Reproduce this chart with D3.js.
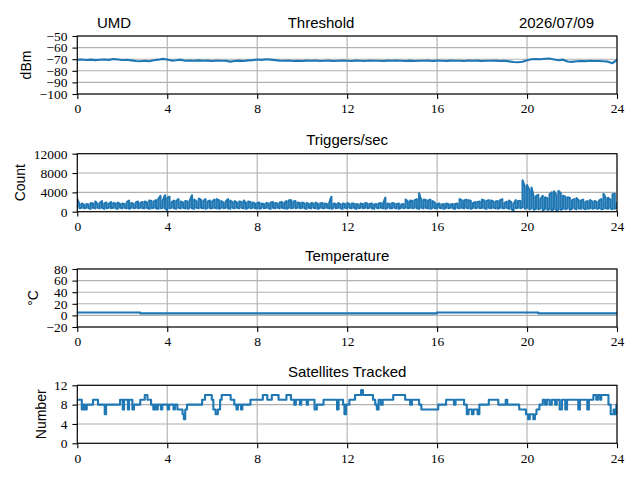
<!DOCTYPE html>
<html lang="en">
	<head>
		<meta charset="utf-8">
		<title>UMD daily status</title>
		<script src="https://cdn.jsdelivr.net/npm/d3@7"></script>
		<style type="text/css">
			body {
				margin: 0;
				background: white;
			}
			.lbl {
				font-family: "Liberation Sans", "DejaVu Sans", sans-serif;
				fill: black;
			}
		</style>
	</head>
	<body>
		<script>

			//Hours of the day, shared x ticks
			var hourTicks = [0, 4, 8, 12, 16, 20, 24];

			//Threshold (dBm), one reading every 0.2 h from 0 to 24
			var thresholdDbm = [
				-70.6, -70.3, -70.7, -70.4, -70.8, -70.5, -70.2, -70.6, -69.9, -70.3,
				-70.7, -70.5, -71.0, -71.6, -71.8, -71.4, -71.7, -70.9, -70.4, -69.7,
				-70.2, -71.2, -70.9, -70.4, -71.3, -71.1, -71.4, -71.0, -71.3, -71.2,
				-71.5, -71.1, -71.4, -71.3, -72.1, -71.6, -71.2, -71.5, -71.0, -70.8,
				-70.3, -70.6, -70.1, -70.4, -70.8, -71.2, -71.4, -71.1, -71.5, -71.3,
				-71.6, -71.2, -71.4, -71.1, -71.5, -71.3, -71.2, -71.6, -71.3, -71.1,
				-71.4, -71.5, -71.2, -71.3, -71.6, -71.1, -71.4, -71.3, -71.5, -71.2,
				-71.4, -71.1, -71.3, -71.6, -71.2, -71.5, -71.3, -71.4, -71.1, -71.5,
				-71.2, -71.3, -71.6, -71.2, -71.4, -71.3, -71.5, -71.1, -71.4, -71.2,
				-71.6, -71.3, -71.4, -71.2, -71.5, -71.4, -71.9, -72.4, -72.6, -72.2,
				-70.9, -70.1, -69.8, -70.0, -69.6, -69.4, -70.2, -70.9, -70.4, -72.0,
				-72.3, -71.8, -71.5, -71.7, -71.4, -71.6, -71.5, -71.8, -72.1, -73.4,
				-70.6
			];

			//Triggers per second: lowest and highest reading in each 0.1 h bin, 0 to 24
			var triggerLow = [
				1100, 700, 800, 700, 800, 700, 600, 800, 700, 800,
				700, 800, 600, 700, 800, 700, 800, 700, 600, 800,
				700, 800, 700, 600, 800, 700, 800, 700, 800, 700,
				700, 800, 600, 700, 800, 700, 600, 700, 800, 700,
				300, 700, 800, 700, 600, 800, 700, 800, 700, 600,
				800, 700, 600, 800, 700, 800, 700, 600, 800, 700,
				700, 800, 700, 600, 800, 700, 800, 700, 600, 800,
				700, 800, 700, 800, 700, 600, 800, 700, 800, 700,
				700, 600, 800, 700, 800, 700, 600, 800, 700, 800,
				700, 800, 700, 600, 800, 700, 800, 700, 800, 700,
				800, 700, 600, 800, 700, 800, 700, 600, 800, 700,
				700, 800, 700, 600, 800, 700, 800, 700, 600, 800,
				700, 800, 700, 800, 600, 700, 800, 700, 800, 700,
				800, 700, 600, 800, 700, 800, 700, 600, 800, 700,
				700, 800, 700, 600, 800, 700, 800, 700, 800, 700,
				800, 700, 600, 800, 700, 800, 700, 600, 800, 700,
				700, 800, 700, 600, 800, 700, 800, 700, 600, 800,
				700, 800, 700, 800, 700, 600, 800, 700, 800, 700,
				800, 700, 600, 800, 700, 800, 700, 600, 800, 700,
				700, 800, 600, 700, 0, 700, 800, 700, 900, 600,
				800, 500, 700, 400, 600, 500, 700, 300, 600, 400,
				500, 300, 600, 0, 500, 400, 600, 500, 700, 400,
				600, 700, 500, 700, 600, 700, 500, 600, 700, 600,
				700, 600, 700, 500, 600, 700, 600, 700, 500, 600,
				1000
			];
			var triggerHigh = [
				2600, 1500, 1700, 1400, 1600, 1500, 1800, 1700, 2100, 1600,
				1800, 2200, 1700, 1900, 1600, 2000, 1800, 1700, 1900, 1600,
				1700, 1600, 2000, 2300, 1800, 1600, 1900, 2100, 1800, 2000,
				2100, 1900, 2300, 2200, 2100, 2400, 2600, 3300, 2300, 3400,
				2900, 3100, 2000, 2300, 2200, 2600, 2100, 1900, 2200, 2100,
				2300, 3400, 2500, 2100, 2700, 2500, 2200, 2600, 2100, 2300,
				2100, 2500, 2600, 2400, 2200, 1900, 2100, 2600, 2300, 2000,
				2200, 1900, 2100, 2000, 2300, 1800, 2100, 2000, 1900, 1700,
				1800, 1900, 1700, 1600, 1800, 1700, 1900, 2000, 1800, 1700,
				1900, 2000, 1800, 2200, 2300, 2400, 2100, 2200, 1900, 1800,
				1900, 1700, 1800, 1600, 1800, 1700, 1900, 1600, 1700, 1800,
				1700, 1600, 1800, 3100, 1700, 1600, 1800, 1500, 1700, 1600,
				1800, 1600, 1700, 1700, 1600, 1500, 1700, 1600, 1800, 1700,
				1600, 1700, 1500, 1600, 1700, 1800, 1700, 2900, 1700, 1600,
				1800, 1700, 1600, 1700, 1500, 1600, 2500, 2100, 2300, 2200,
				2400, 2600, 3800, 2300, 2500, 2400, 2300, 2500, 2200, 1900,
				1600, 1700, 1500, 1600, 1700, 1600, 1500, 1600, 1600, 1700,
				2600, 2400, 2300, 2500, 2400, 2200, 1800, 2000, 2000, 2100,
				2500, 2300, 2200, 2400, 2300, 2100, 2100, 2200, 2400, 2600,
				1800, 2100, 2300, 2000, 1600, 2400, 2200, 2200, 6500, 5200,
				5500, 4500, 5000, 3000, 3200, 3500, 2600, 3300, 3000, 2800,
				3600, 4000, 4200, 3500, 4300, 3800, 3300, 3100, 3000, 2900,
				2400, 2600, 2800, 2300, 2300, 2500, 2000, 2200, 2400, 2100,
				2200, 2000, 2300, 2600, 3700, 2800, 2900, 2500, 3600, 3700,
				1800
			];

			//Temperature (C), value holds from each hour until the next
			var tempHours = [0, 2.8, 16.0, 20.5, 24];
			var tempValues = [5, 3.5, 5, 3.5, 3.5];

			//Satellites tracked, value holds from each hour until the next
			var satHours = [
				0.00, 0.20, 0.28, 0.35, 0.42, 0.70, 0.92, 1.22, 1.28, 1.90,
				2.02, 2.08, 2.25, 2.30, 2.45, 2.52, 2.80, 3.00, 3.12, 3.28,
				3.38, 3.45, 3.52, 3.58, 3.72, 3.78, 4.02, 4.08, 4.28, 4.34,
				4.45, 4.68, 4.74, 4.80, 4.88, 5.55, 5.68, 5.98, 6.05, 6.15,
				6.25, 6.35, 6.42, 6.82, 6.98, 7.08, 7.14, 7.28, 7.34, 7.70,
				8.25, 8.45, 8.65, 8.95, 9.30, 9.50, 9.65, 9.72, 9.90, 9.96,
				10.20, 10.26, 10.55, 10.65, 10.95, 11.55, 11.62, 11.82, 11.88, 11.95,
				12.10, 12.35, 12.62, 12.70, 13.15, 13.25, 13.32, 13.40, 13.50, 13.58,
				14.05, 14.58, 14.80, 14.88, 15.20, 15.30, 16.05, 16.40, 16.75, 16.82,
				17.20, 17.32, 17.40, 17.55, 17.62, 17.80, 17.88, 18.30, 18.72, 19.05,
				19.12, 19.65, 19.95, 20.05, 20.12, 20.28, 20.35, 20.42, 20.55, 20.70,
				20.80, 20.88, 21.00, 21.10, 21.25, 21.32, 21.45, 21.55, 21.70, 21.78,
				22.28, 22.35, 22.68, 22.75, 22.95, 23.08, 23.15, 23.25, 23.30, 23.62,
				23.72, 23.85, 23.92, 23.97, 24.00
			];
			var satCounts = [
				9, 7, 8, 7, 8, 9, 8, 6, 8, 9,
				7, 9, 7, 9, 7, 8, 9, 10, 9, 8,
				7, 8, 7, 8, 7, 8, 7, 8, 7, 8,
				7, 6, 5, 7, 8, 9, 10, 9, 7, 6,
				7, 9, 10, 9, 8, 7, 8, 7, 8, 9,
				10, 9, 10, 9, 10, 9, 8, 9, 8, 9,
				8, 9, 7, 8, 9, 7, 9, 8, 6, 8,
				9, 10, 11, 10, 9, 8, 7, 9, 8, 9,
				10, 9, 8, 9, 8, 7, 8, 9, 8, 9,
				8, 6, 7, 6, 7, 6, 8, 9, 8, 9,
				8, 7, 6, 5, 6, 5, 6, 7, 8, 9,
				8, 9, 8, 9, 8, 9, 7, 9, 7, 9,
				7, 9, 7, 9, 10, 9, 10, 9, 10, 8,
				6, 7, 6, 8, 8
			];

			//Figure size and axes frames
			var w = 640;
			var h = 480;
			var axLeft = 77.3;
			var axRight = 617;
			var axTops = [36, 153.7, 269, 385.3];
			var axHeight = 58;

			var lineColor = "#1f77b4";
			var gridColor = "#b0b0b0";
			var tickLen = 4.9;
			var numFont = "'Liberation Serif', 'DejaVu Serif', serif";

			var svg = d3.select("body")
						.append("svg")
						.attr("width", w)
						.attr("height", h);

			svg.append("rect")
				.attr("width", w)
				.attr("height", h)
				.attr("fill", "white");

			var x = d3.scaleLinear().domain([0, 24]).range([axLeft, axRight]);

			//Turn the parallel arrays into point lists
			var thresholdPts = thresholdDbm.map(function(v, i) { return [i * 0.2, v]; });
			//each bin goes low->high or high->low, so the trace fills the band like the raw data does
			var triggerPts = [];
			triggerLow.forEach(function(lo, i) {
				var t = i * 0.1;
				var hi = triggerHigh[i];
				if (i % 2 === 0) {
					triggerPts.push([t, lo], [t, hi]);
				} else {
					triggerPts.push([t, hi], [t, lo]);
				}
			});
			var tempPts = tempHours.map(function(t, i) { return [t, tempValues[i]]; });
			var satPts = satHours.map(function(t, i) { return [t, satCounts[i]]; });

			var panels = [
				{ id: "thr", pts: thresholdPts, domain: [-100, -50], ticks: [-100, -90, -80, -70, -60, -50], ylabel: "dBm", curve: d3.curveLinear },
				{ id: "trg", pts: triggerPts, domain: [0, 12000], ticks: [0, 4000, 8000, 12000], ylabel: "Count", curve: d3.curveLinear, title: "Triggers/sec" },
				{ id: "tmp", pts: tempPts, domain: [-20, 80], ticks: [-20, 0, 20, 40, 60, 80], ylabel: "\u00b0C", curve: d3.curveStepAfter, title: "Temperature" },
				{ id: "sat", pts: satPts, domain: [0, 12], ticks: [0, 4, 8, 12], ylabel: "Number", curve: d3.curveStepAfter, title: "Satellites Tracked" }
			];

			var fmt = function(d) {
				return d < 0 ? "\u2212" + Math.abs(d) : String(d);
			};

			panels.forEach(function(p, k) {
				var top = axTops[k];
				var bottom = top + axHeight;
				var y = d3.scaleLinear().domain(p.domain).range([bottom, top]);
				var g = svg.append("g");

				//Grid
				g.selectAll(".vgrid")
					.data(hourTicks)
					.enter()
					.append("line")
					.attr("x1", function(d) { return x(d); })
					.attr("x2", function(d) { return x(d); })
					.attr("y1", top)
					.attr("y2", bottom)
					.attr("stroke", gridColor)
					.attr("stroke-width", 1.1);

				g.selectAll(".hgrid")
					.data(p.ticks)
					.enter()
					.append("line")
					.attr("x1", axLeft)
					.attr("x2", axRight)
					.attr("y1", function(d) { return y(d); })
					.attr("y2", function(d) { return y(d); })
					.attr("stroke", gridColor)
					.attr("stroke-width", 1.1);

				//Data line, clipped to the frame
				svg.append("clipPath")
					.attr("id", "clip-" + p.id)
					.append("rect")
					.attr("x", axLeft)
					.attr("y", top)
					.attr("width", axRight - axLeft)
					.attr("height", axHeight);

				var line = d3.line()
					.x(function(d) { return x(d[0]); })
					.y(function(d) { return y(d[1]); })
					.curve(p.curve);

				g.append("path")
					.datum(p.pts)
					.attr("clip-path", "url(#clip-" + p.id + ")")
					.attr("d", line)
					.attr("fill", "none")
					.attr("stroke", lineColor)
					.attr("stroke-width", 2.1)
					.attr("stroke-linejoin", "round")
					.attr("stroke-linecap", "square");

				//Axes
				var yAxis = g.append("g")
					.attr("transform", "translate(" + axLeft + ",0)")
					.call(d3.axisLeft(y).tickValues(p.ticks).tickFormat(fmt).tickSize(tickLen).tickPadding(4.9));

				g.append("g")
					.attr("transform", "translate(0," + bottom + ")")
					.call(d3.axisBottom(x).tickValues(hourTicks).tickFormat(fmt).tickSize(tickLen).tickPadding(4.9));

				g.selectAll(".domain").remove();
				g.selectAll(".tick line").attr("stroke", "black").attr("stroke-width", 1.1);
				g.selectAll(".tick text")
					.style("font-family", numFont)
					.style("font-size", "13.5px")
					.attr("fill", "black");

				//Frame on top of the line
				g.append("rect")
					.attr("x", axLeft)
					.attr("y", top)
					.attr("width", axRight - axLeft)
					.attr("height", axHeight)
					.attr("fill", "none")
					.attr("stroke", "black")
					.attr("stroke-width", 1.1);

				//Y label sits left of the tick labels
				var bb = yAxis.node().getBBox();
				var lx = axLeft + bb.x - 8.5;
				g.append("text")
					.attr("class", "lbl")
					.attr("transform", "translate(" + lx + "," + (top + axHeight / 2) + ") rotate(-90)")
					.attr("text-anchor", "middle")
					.attr("font-size", 14)
					.text(p.ylabel);

				if (p.title) {
					g.append("text")
						.attr("class", "lbl")
						.attr("x", (axLeft + axRight) / 2)
						.attr("y", top - 8.3)
						.attr("text-anchor", "middle")
						.attr("font-size", 15)
						.text(p.title);
				}
			});

			//Top header: site, title and date on one row
			var header = svg.append("g").attr("class", "lbl").attr("font-size", 15);
			header.append("text").attr("x", 97).attr("y", axTops[0] - 8.3).attr("text-anchor", "start").text("UMD");
			header.append("text").attr("x", 321).attr("y", axTops[0] - 8.3).attr("text-anchor", "middle").text("Threshold");
			header.append("text").attr("x", 594).attr("y", axTops[0] - 8.3).attr("text-anchor", "end").text("2026/07/09");

		</script>
	</body>
</html>
